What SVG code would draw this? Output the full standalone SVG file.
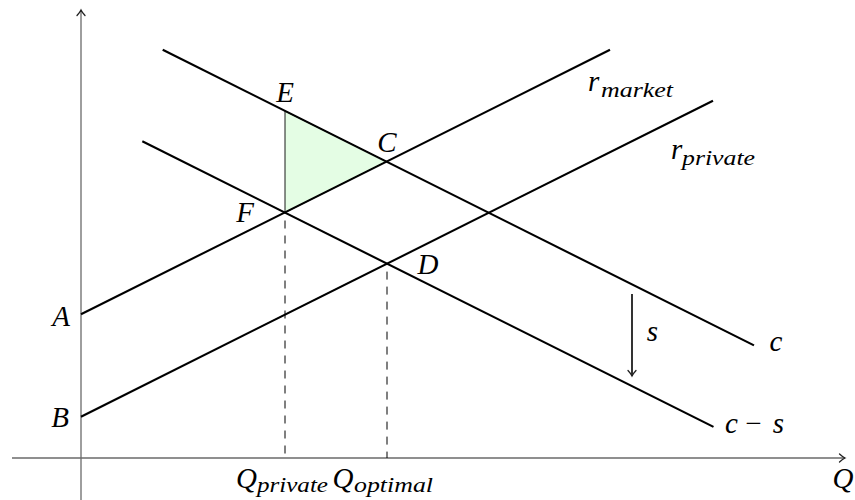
<svg xmlns="http://www.w3.org/2000/svg" width="855" height="500" viewBox="0 0 855 500">
  <style>
    .axis { stroke: #6a6a6a; stroke-width: 1.3; fill: none; }
    .curve { stroke: #000; stroke-width: 2.1; fill: none; stroke-linecap: butt; }
    .dash { stroke: #000; stroke-width: 1; stroke-dasharray: 8 7; fill: none; }
    .tri { fill: #e4fde4; stroke: #000; stroke-width: 0.9; stroke-linejoin: round; }
    .shift { stroke: #000; stroke-width: 1.6; fill: none; }
    .m { font-family: "Liberation Serif", "DejaVu Serif", serif; font-style: italic; font-size: 29px; fill: #000; }
    .mu { font-family: "Liberation Serif", "DejaVu Serif", serif; font-style: normal; font-size: 29px; fill: #000; }
    .sub { font-family: "Liberation Serif", "DejaVu Serif", serif; font-style: italic; font-size: 20px; fill: #000; }
  </style>
  <defs>
    <marker id="ah" viewBox="-7 -5 9 10" refX="0" refY="0" markerWidth="9" markerHeight="10" markerUnits="userSpaceOnUse" orient="auto">
      <path d="M-5.5,-4 Q-2.2,-1 0,0 Q-2.2,1 -5.5,4" fill="none" stroke="#222" stroke-width="1.3" stroke-linecap="round"/>
    </marker>
  </defs>

  <g id="axes">
    <line class="axis" x1="81" y1="500" x2="81" y2="10" marker-end="url(#ah)"/>
    <line class="axis" x1="12" y1="458" x2="845" y2="458" marker-end="url(#ah)"/>
  </g>

  <g id="area-ECF">
    <polygon class="tri" points="285,111 386.5,161.5 285,212.5"/>
  </g>

  <g id="connectors">
    <line id="r-market" class="curve" x1="81" y1="314.3" x2="610" y2="49.8"/>
    <line id="r-private" class="curve" x1="81" y1="416.7" x2="713" y2="100.7"/>
    <line id="c" class="curve" x1="162.7" y1="49.7" x2="754" y2="345.4"/>
    <line id="c-minus-s" class="curve" x1="142.3" y1="141.3" x2="713.5" y2="426.9"/>
    <line id="drop-F" class="dash" x1="285" y1="212.5" x2="285" y2="458" stroke-dashoffset="7"/>
    <line id="drop-D" class="dash" x1="387" y1="263.6" x2="387" y2="458" stroke-dashoffset="7"/>
    <line id="shift-s" class="shift" x1="632" y1="294" x2="632" y2="376" marker-end="url(#ah)"/>
  </g>

  <g id="labels">
    <g id="label-E"><text class="m" x="285" y="102" text-anchor="middle">E</text></g>
    <g id="label-C"><text class="m" x="387" y="152" text-anchor="middle">C</text></g>
    <g id="label-F"><text class="m" x="245" y="222" text-anchor="middle">F</text></g>
    <g id="label-D"><text class="m" x="428" y="273.5" text-anchor="middle">D</text></g>
    <g id="label-A"><text class="m" x="61" y="325.5" text-anchor="middle">A</text></g>
    <g id="label-B"><text class="m" x="60" y="427" text-anchor="middle">B</text></g>
    <g id="label-r-market">
      <text class="m" x="588" y="91">r</text>
      <text class="sub" x="601" y="97" textLength="72" lengthAdjust="spacingAndGlyphs">market</text>
    </g>
    <g id="label-r-private">
      <text class="m" x="671" y="159">r</text>
      <text class="sub" x="682" y="165" textLength="73" lengthAdjust="spacingAndGlyphs">private</text>
    </g>
    <g id="label-c"><text class="m" x="776" y="351" text-anchor="middle">c</text></g>
    <g id="label-c-s">
      <text class="m" x="725" y="433">c</text>
      <text class="mu" x="753.5" y="433" text-anchor="middle">−</text>
      <text class="m" x="778.5" y="433" text-anchor="middle">s</text>
    </g>
    <g id="label-s"><text class="m" x="652.5" y="341" text-anchor="middle">s</text></g>
    <g id="label-Q"><text class="m" x="843" y="488" text-anchor="middle">Q</text></g>
    <g id="label-Q-private">
      <text class="m" x="246.5" y="488" text-anchor="middle">Q</text>
      <text class="sub" x="257" y="492" textLength="71" lengthAdjust="spacingAndGlyphs">private</text>
    </g>
    <g id="label-Q-optimal">
      <text class="m" x="343" y="488" text-anchor="middle">Q</text>
      <text class="sub" x="354" y="492" textLength="79" lengthAdjust="spacingAndGlyphs">optimal</text>
    </g>
  </g>
</svg>
